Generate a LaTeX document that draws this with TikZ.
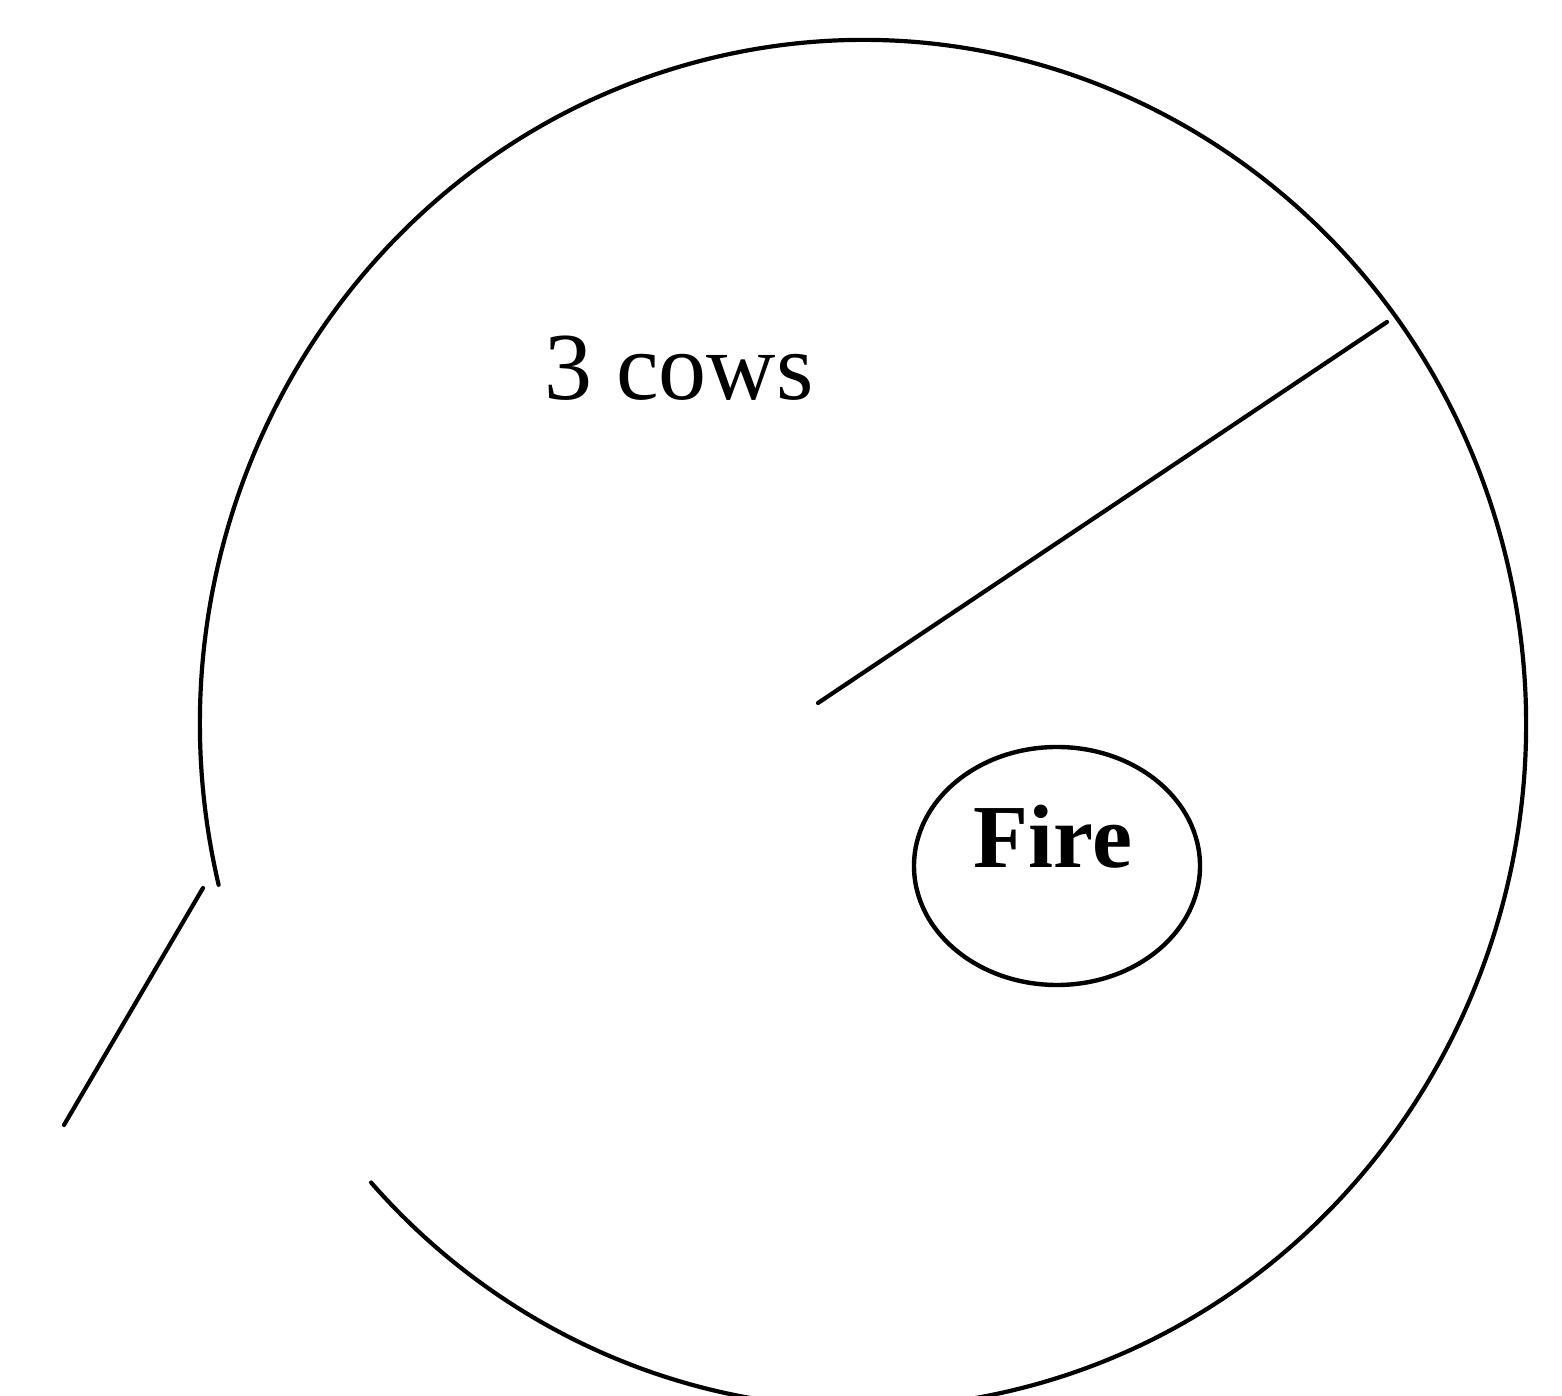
\documentclass[tikz,border=0pt]{standalone}
\usepackage{fontspec}
\setmainfont{Liberation Serif}
\usetikzlibrary{shapes.geometric}
\tikzset{
  stroke/.style={line width=2.1pt, line cap=round, black},
  firering/.style={draw, ellipse, line width=2.2pt, minimum width=143pt, minimum height=119pt, inner sep=0pt},
  label/.style={anchor=base, inner sep=0pt}
}
\begin{document}
\begin{tikzpicture}[x=0.5pt,y=0.5pt]
  \useasboundingbox (0,0) rectangle (1562,1396);
  \clip (0,0) rectangle (1562,1396);
  % big enclosure (ellipse arc with a gap at lower left)
  \draw[stroke] (863,672) ++(193.6:663 and 684) arc[start angle=193.6, end angle=-137.9, x radius=663, y radius=684];
  % coordinates for lines
  \coordinate (rA) at (818,693);
  \coordinate (rB) at (1387,1074);
  \coordinate (gA) at (203,508);
  \coordinate (gB) at (64,271);
  \draw[stroke] (rA) -- (rB);
  \draw[stroke] (gA) -- (gB);
  % labels
  \node[label, font=\fontsize{48pt}{50pt}\selectfont] (cows) at (679,996) {3 cows};
  \node[firering] (fire) at (1057,530) {};
  \node[label, font=\fontsize{45pt}{47pt}\selectfont\bfseries] (firetext) at (1053,528) {Fire};
\end{tikzpicture}
\end{document}
